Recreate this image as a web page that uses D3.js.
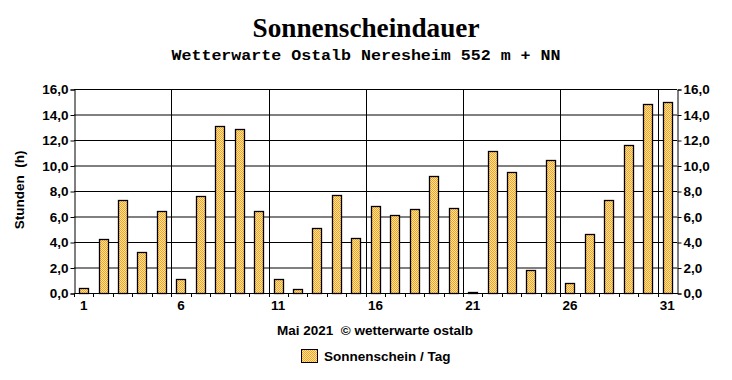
<!DOCTYPE html>
<html>
<head>
<meta charset="utf-8">
<script src="https://cdn.jsdelivr.net/npm/d3@7"></script>
<style>
  body { margin: 0; background: #fff; }
  text { fill: #000; }
  .lbl { font-family: "Liberation Sans", Arial, sans-serif; font-weight: bold; font-size: 13.5px; }
</style>
</head>
<body>
<div id="chart"></div>
<script>
// Mai 2021, Sonnenscheindauer je Tag (h)
var days = [1, 2, 3, 4, 5, 6, 7, 8, 9, 10, 11, 12, 13, 14, 15, 16,
            17, 18, 19, 20, 21, 22, 23, 24, 25, 26, 27, 28, 29, 30, 31];
var sunHours = [0.4, 4.2, 7.3, 3.2, 6.4, 1.1, 7.6, 13.1, 12.9, 6.4, 1.1,
                0.3, 5.1, 7.7, 4.3, 6.8, 6.1, 6.6, 9.2, 6.7, 0.1, 11.1,
                9.5, 1.8, 10.4, 0.8, 4.6, 7.3, 11.6, 14.8, 15.0];
var yTicks = [0, 2, 4, 6, 8, 10, 12, 14, 16];
var xLabels = [1, 6, 11, 16, 21, 26, 31];
var gridDays = [6, 11, 16, 21, 26, 31];

var width = 732,
    height = 380,
    plotL = 74, plotR = 677, plotT = 89, plotB = 293;

var svg = d3.select("#chart").append("svg")
    .attr("width", width)
    .attr("height", height);

// checkered fill of the bars
var pat = svg.append("defs").append("pattern")
    .attr("id", "check")
    .attr("width", 2).attr("height", 2)
    .attr("patternUnits", "userSpaceOnUse");
pat.append("rect").attr("width", 2).attr("height", 2).attr("fill", "#ffe3a8");
pat.append("rect").attr("width", 1).attr("height", 1).attr("fill", "#f5a31a");
pat.append("rect").attr("x", 1).attr("y", 1).attr("width", 1).attr("height", 1).attr("fill", "#f5a31a");

var x = d3.scaleBand()
    .domain(days)
    .range([plotL, plotR]);

var y = d3.scaleLinear()
    .domain([0, 16])
    .range([plotB, plotT]);

var fmt = function (d) { return d.toFixed(1).replace(".", ","); };

// horizontal grid
svg.append("g").selectAll("line")
    .data(yTicks)
    .enter().append("line")
    .attr("x1", plotL).attr("x2", plotR)
    .attr("y1", function (d) { return y(d) + 0.5; })
    .attr("y2", function (d) { return y(d) + 0.5; })
    .attr("stroke", "#000");

// vertical grid every 5 days
svg.append("g").selectAll("line")
    .data(gridDays)
    .enter().append("line")
    .attr("x1", function (d) { return Math.round(x(d)) + 0.5; })
    .attr("x2", function (d) { return Math.round(x(d)) + 0.5; })
    .attr("y1", plotT).attr("y2", plotB + 4)
    .attr("stroke", "#000");

// small ticks under the x axis
svg.append("g").selectAll("line")
    .data(days)
    .enter().append("line")
    .attr("x1", function (d) { return Math.round(x(d)) + 0.5; })
    .attr("x2", function (d) { return Math.round(x(d)) + 0.5; })
    .attr("y1", plotB).attr("y2", plotB + 4)
    .attr("stroke", "#000");

// bars
var bw = x.bandwidth() * 0.48;
svg.append("g").selectAll("rect")
    .data(sunHours)
    .enter().append("rect")
    .attr("x", function (d, i) { return Math.round(x(days[i]) + (x.bandwidth() - bw) / 2) + 0.5; })
    .attr("y", function (d) { return Math.round(y(d)) + 0.5; })
    .attr("width", Math.round(bw))
    .attr("height", function (d) { return Math.round(y(0)) - Math.round(y(d)); })
    .attr("fill", "url(#check)")
    .attr("stroke", "#000")
    .attr("stroke-width", 1.3);

// axes
var yl = svg.append("g")
    .attr("class", "lbl")
    .attr("transform", "translate(" + (plotL + 0.5) + ",0.5)")
    .call(d3.axisLeft(y).tickValues(yTicks).tickFormat(fmt).tickSize(4).tickPadding(2));
var yr = svg.append("g")
    .attr("class", "lbl")
    .attr("transform", "translate(" + (plotR + 0.5) + ",0.5)")
    .call(d3.axisRight(y).tickValues(yTicks).tickFormat(fmt).tickSize(4).tickPadding(2));
var xb = svg.append("g")
    .attr("class", "lbl")
    .attr("transform", "translate(0," + (plotB + 0.5) + ")")
    .call(d3.axisBottom(x).tickValues(xLabels).tickSize(0).tickPadding(7));
xb.select(".domain").attr("d", "M" + plotL + ",0H" + (plotR + 1));
[yl, yr, xb].forEach(function (g) {
    g.attr("font-family", null).attr("font-size", null);
    g.selectAll(".domain").attr("stroke", "#000");
    g.selectAll(".tick line").attr("stroke", "#000");
    g.selectAll(".tick text").attr("fill", "#000");
});

// titles
svg.append("text")
    .attr("x", 366).attr("y", 37)
    .attr("text-anchor", "middle")
    .attr("textLength", 227).attr("lengthAdjust", "spacingAndGlyphs")
    .style("font-family", "'Liberation Serif', 'Times New Roman', serif")
    .style("font-weight", "bold").style("font-size", "27px")
    .text("Sonnenscheindauer");

svg.append("text")
    .attr("x", 366).attr("y", 60)
    .attr("text-anchor", "middle")
    .attr("textLength", 389).attr("lengthAdjust", "spacingAndGlyphs")
    .style("font-family", "'Liberation Mono', 'Courier New', monospace")
    .style("font-weight", "bold").style("font-size", "15px")
    .text("Wetterwarte Ostalb Neresheim 552 m + NN");

svg.append("text")
    .attr("class", "lbl")
    .attr("transform", "translate(24,190) rotate(-90)")
    .attr("text-anchor", "middle")
    .attr("xml:space", "preserve")
    .text("Stunden  (h)");

svg.append("text")
    .attr("class", "lbl")
    .attr("x", 375).attr("y", 335)
    .attr("text-anchor", "middle")
    .attr("xml:space", "preserve")
    .text("Mai 2021  \u00a9 wetterwarte ostalb");

// legend
var leg = svg.append("g").attr("transform", "translate(301,349)");
leg.append("rect")
    .attr("x", 0.5).attr("y", 0.5)
    .attr("width", 16).attr("height", 13)
    .attr("fill", "url(#check)")
    .attr("stroke", "#000");
leg.append("text")
    .attr("class", "lbl")
    .attr("x", 23).attr("y", 12)
    .text("Sonnenschein / Tag");
</script>
</body>
</html>
